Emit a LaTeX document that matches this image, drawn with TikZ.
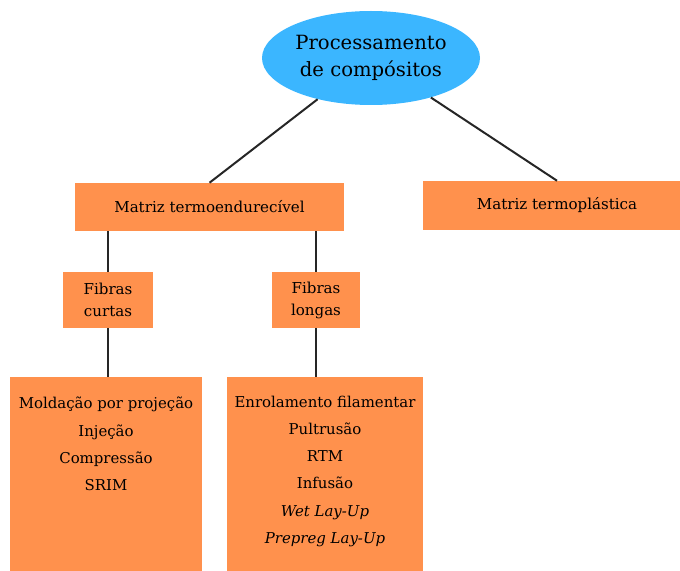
\documentclass[tikz,border=0pt]{standalone}
\usepackage{fontspec}
\setmainfont{DejaVu Serif}
\usetikzlibrary{shapes.geometric}

\definecolor{boxorange}{RGB}{255,145,77}
\definecolor{ovalblue}{RGB}{59,182,255}

\tikzset{
  procbox/.style={fill=boxorange, draw=none, inner sep=0pt, align=center,
    font=\fontsize{11.3}{16.5}\selectfont},
  methodtext/.style={anchor=north, inner sep=0pt, align=center,
    font=\fontsize{11.2}{20.4}\selectfont},
  link/.style={line width=1.5pt, color=black!85}
}

\begin{document}
\begin{tikzpicture}[x=0.75pt,y=0.75pt,yscale=-1]
\useasboundingbox (0,0) rectangle (680,570);

%Shape: Ellipse
\node [ellipse, fill=ovalblue, minimum width=163.5pt, minimum height=70.5pt, inner sep=0pt,
  align=center, font=\fontsize{14.7}{20.5}\selectfont] (proc) at (371,58) {Processamento\\de compósitos};

%Shape: Rectangle
\node [procbox, minimum width=201.75pt, minimum height=36pt] (termo) at (209.5,207) {Matriz termoendurecível};
%Shape: Rectangle
\node [procbox, minimum width=201pt, minimum height=36.75pt] (termopl) at (557,205.5) {Matriz termoplástica};
%Shape: Rectangle
\node [procbox, minimum width=67.5pt, minimum height=42pt] (curtas) at (108,300) {Fibras\\curtas};
%Shape: Rectangle
\node [procbox, minimum width=66pt, minimum height=42pt] (longas) at (316,300) {Fibras\\longas};
%Shape: Rectangle
\node [procbox, anchor=north, minimum width=144pt, minimum height=148.5pt] (curtasbox) at (106,377) {};
%Shape: Rectangle
\node [procbox, anchor=north, minimum width=147pt, minimum height=148.5pt] (longasbox) at (325,377) {};

%Straight Lines
\draw [link] (proc) -- (termo.north);
\draw [link] (proc) -- (termopl.north);
\draw [link] (termo.south -| curtas.north) -- (curtas.north);
\draw [link] (termo.south -| longas.north) -- (longas.north);
\draw [link] (curtas.south) -- (curtasbox.north -| curtas.south);
\draw [link] (longas.south) -- (longasbox.north -| longas.south);

% Text Node
\node [methodtext] (curtaslist) at ([yshift=15pt]curtasbox.north)
  {Moldação por projeção\\Injeção\\Compressão\\SRIM};
% Text Node
\node [methodtext] (longaslist) at ([yshift=14pt]longasbox.north)
  {Enrolamento filamentar\\Pultrusão\\RTM\\Infusão\\\textit{Wet Lay-Up}\\\textit{Prepreg Lay-Up}};

\end{tikzpicture}
\end{document}
